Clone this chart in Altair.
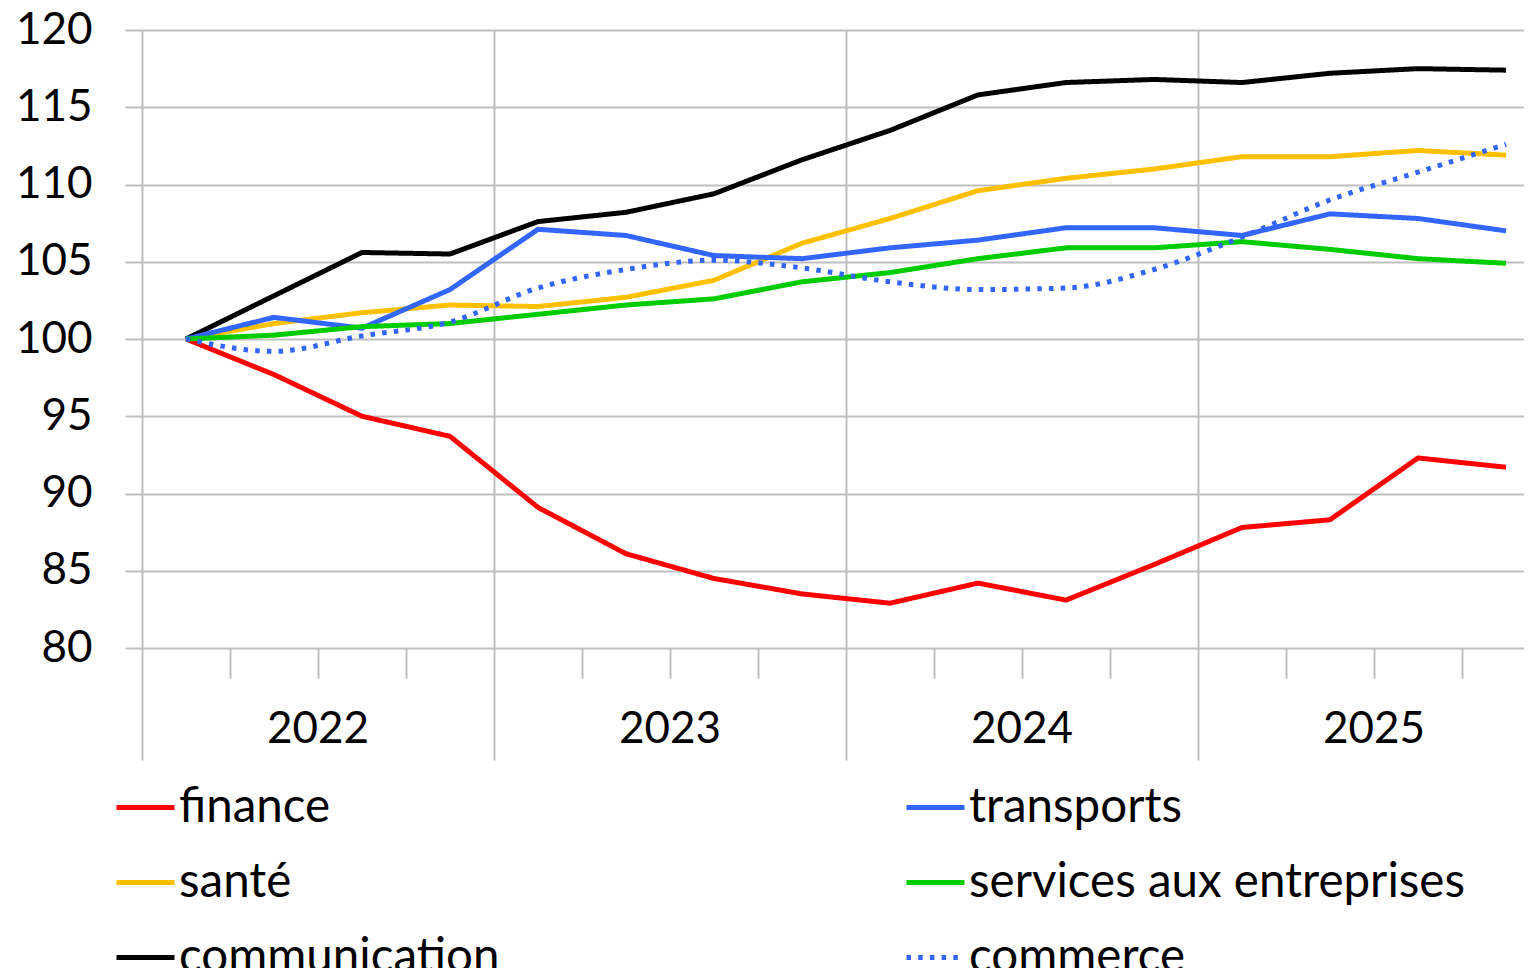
import altair as alt
import pandas as pd

quarters = ["2022T1", "2022T2", "2022T3", "2022T4",
            "2023T1", "2023T2", "2023T3", "2023T4",
            "2024T1", "2024T2", "2024T3", "2024T4",
            "2025T1", "2025T2", "2025T3", "2025T4"]
years = ["2022", "2023", "2024", "2025"]

# legend order (filled column by column): finance, santé, communication | transports, services, commerce
series_names = ["finance", "santé", "communication",
                "transports", "services aux entreprises", "commerce"]
series_colors = ["#FF0000", "#FFC000", "#000000", "#3366FF", "#00CC00", "#3366FF"]
series_dash = [[1, 0], [1, 0], [1, 0], [1, 0], [1, 0], [4.5, 7.2]]

finance = [100, 97.7, 95.0, 93.7, 89.1, 86.1, 84.5, 83.5,
           82.9, 84.2, 83.1, 85.4, 87.8, 88.3, 92.3, 91.7]
sante = [100, 101.0, 101.7, 102.2, 102.1, 102.7, 103.8, 106.2,
         107.8, 109.6, 110.4, 111.0, 111.8, 111.8, 112.2, 111.9]
communication = [100, 102.8, 105.6, 105.5, 107.6, 108.2, 109.4, 111.6,
                 113.5, 115.8, 116.6, 116.8, 116.6, 117.2, 117.5, 117.4]
transports = [100, 101.4, 100.7, 103.2, 107.1, 106.7, 105.4, 105.2,
              105.9, 106.4, 107.2, 107.2, 106.7, 108.1, 107.8, 107.0]
services = [100, 100.25, 100.8, 101.0, 101.6, 102.2, 102.6, 103.7,
            104.3, 105.2, 105.9, 105.9, 106.3, 105.8, 105.2, 104.9]
commerce = [100, 99.2, 100.2, 101.1, 103.3, 104.5, 105.1, 104.6,
            103.7, 103.2, 103.3, 104.5, 106.6, 109.0, 110.8, 112.6]

all_values = [finance, sante, communication, transports, services, commerce]

rows = []
for name, vals in zip(series_names, all_values):
    for i, (q, v) in enumerate(zip(quarters, vals)):
        rows.append({"serie": name, "trimestre": q, "pos": i + 0.5, "valeur": v})
df = pd.DataFrame(rows)
df_year = pd.DataFrame({"annee": years, "pos": [2, 6, 10, 14]})

FONT = "Lato"
GRID = "#BFBFBF"

x_scale = alt.Scale(domain=[0, 1382 / 88], nice=False, zero=False)
y_scale = alt.Scale(domain=[80, 120], nice=False, zero=False)

legend = alt.Legend(
    title=None, orient="none", legendX=-28, legendY=746,
    columns=2, columnPadding=396, rowPadding=20,
    symbolType="stroke", symbolSize=3364, symbolStrokeWidth=5,
    labelFont=FONT, labelFontSize=47.5, labelColor="black",
    labelOffset=2, padding=0, labelLimit=1000,
)
color = alt.Color("serie:N",
                  scale=alt.Scale(domain=series_names, range=series_colors),
                  legend=legend)
dash = alt.StrokeDash("serie:N",
                      scale=alt.Scale(domain=series_names, range=series_dash),
                      legend=legend)

y_axis = alt.Axis(values=list(range(80, 121, 5)), grid=True, gridColor=GRID,
                  gridWidth=2, tickSize=17, tickColor=GRID, tickWidth=2,
                  labelFont=FONT, labelFontSize=44, labelColor="black",
                  labelPadding=33, domain=False, title=None)

base = alt.Chart(df)

solid = base.transform_filter(alt.datum.serie != "commerce").mark_line(
    strokeWidth=5, strokeJoin="round"
).encode(
    x=alt.X("pos:Q", scale=x_scale,
            axis=alt.Axis(values=[0, 4, 8, 12], orient="bottom", grid=True,
                          gridColor=GRID, gridWidth=2,
                          tickSize=112, tickColor=GRID, tickWidth=2,
                          labels=False, domain=False, title=None)),
    y=alt.Y("valeur:Q", scale=y_scale, axis=y_axis),
    color=color,
    strokeDash=dash,
    order=alt.Order("pos:Q"),
)

dotted = base.transform_filter(alt.datum.serie == "commerce").mark_line(
    strokeWidth=5, interpolate="monotone"
).encode(
    x=alt.X("pos:Q", scale=x_scale,
            axis=alt.Axis(values=[1, 2, 3, 5, 6, 7, 9, 10, 11, 13, 14, 15],
                          orient="bottom", grid=False, tickSize=30,
                          tickColor=GRID, tickWidth=2,
                          labels=False, domain=False, title=None)),
    y=alt.Y("valeur:Q", scale=y_scale, axis=y_axis),
    color=color,
    strokeDash=dash,
    order=alt.Order("pos:Q"),
)

year_text = alt.Chart(df_year).mark_text(
    font=FONT, fontSize=44, color="black", baseline="middle", align="center"
).encode(
    x=alt.X("pos:Q", scale=x_scale, axis=None),
    y=alt.value(700),
    text="annee:N",
)

chart = alt.layer(solid, dotted, year_text).resolve_axis(x="independent").properties(
    width=1382, height=618,
    autosize=alt.AutoSizeParams(type="none"),
    padding={"left": 134, "top": 22, "right": 0, "bottom": 320},
).configure_view(stroke=None).configure(background="white")

chart.save("out.html", embed_options={"renderer": "svg", "actions": False})
